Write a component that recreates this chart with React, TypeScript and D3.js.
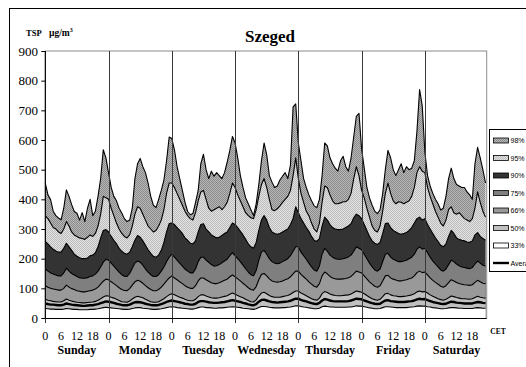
import React, { useEffect, useRef } from "react";
import * as d3 from "d3";

// categories / labels
const days = ["Sunday", "Monday", "Tuesday", "Wednesday", "Thursday", "Friday", "Saturday"];
const hourTicks = [0, 6, 12, 18];
const yTicks = [0, 100, 200, 300, 400, 500, 600, 700, 800, 900];
const legendLabels = ["98%", "95%", "90%", "75%", "66%", "50%", "33%", "Average"];

// hourly values, Sunday 0h .. Saturday 23h (µg/m3)
const p98 = [
  455, 415, 399, 360, 345, 337, 331, 370, 432, 410, 382, 359, 353, 330, 355, 325, 370, 400, 345, 360, 410, 470, 567, 540,
  489, 440, 410, 395, 370, 354, 335, 325, 330, 370, 470, 520, 538, 510, 490, 455, 410, 380, 372, 400, 430, 465, 530, 610,
  605, 567, 510, 470, 430, 390, 359, 348, 352, 390, 430, 520, 552, 500, 470, 495, 478, 490, 480, 470, 490, 525, 565, 612,
  590, 540, 480, 440, 405, 385, 365, 345, 385, 450, 530, 590, 550, 480, 458, 440, 445, 465, 478, 490, 470, 515, 712, 722,
  590, 530, 470, 440, 415, 395, 378, 372, 400, 480, 590, 580, 540, 520, 505, 495, 530, 545, 510, 495, 540, 610, 680, 690,
  570, 505, 440, 405, 380, 360, 352, 365, 420, 500, 565, 540, 500, 480, 500, 520, 490, 510, 500, 505, 530, 630, 770, 715,
  560, 480, 445, 420, 400, 385, 364, 370, 410, 470, 505, 470, 450, 445, 440, 440, 425, 415, 400, 520, 575, 540, 500, 455,
];
const p95 = [
  345, 335, 320, 305, 300, 290, 285, 300, 325, 310, 290, 280, 275, 270, 268, 265, 272, 280, 275, 285, 310, 350, 410, 405,
  400, 370, 345, 320, 300, 285, 275, 270, 280, 310, 350, 375, 370, 350, 330, 310, 300, 290, 295, 310, 330, 365, 420, 455,
  455, 440, 420, 400, 380, 360, 345, 335, 330, 355, 395, 425, 430, 400, 370, 360, 365, 370, 375, 365, 375, 390, 420, 455,
  440, 415, 395, 375, 355, 345, 338, 335, 365, 410, 450, 470, 440, 400, 365, 362, 368, 378, 390, 400, 410, 430, 480, 540,
  470, 420, 390, 360, 345, 320, 300, 290, 320, 390, 445, 440, 415, 395, 385, 385, 388, 392, 392, 400, 420, 470, 510, 480,
  430, 405, 370, 340, 310, 295, 290, 310, 360, 420, 455, 420, 395, 385, 392, 390, 385, 390, 395, 410, 440, 490, 510, 495,
  490, 440, 410, 385, 360, 340, 320, 310, 330, 365, 375, 355, 350, 355, 345, 335, 330, 325, 335, 370, 425, 390, 360, 340,
];
const p90 = [
  258, 250, 240, 232, 226, 222, 222, 235, 252, 240, 228, 215, 208, 203, 200, 200, 202, 210, 212, 220, 240, 270, 295, 298,
  290, 275, 262, 250, 235, 225, 218, 215, 222, 240, 262, 278, 272, 260, 245, 230, 218, 208, 205, 212, 228, 255, 290, 318,
  320, 315, 305, 295, 285, 270, 262, 252, 250, 260, 290, 315, 318, 300, 290, 280, 275, 270, 272, 278, 285, 290, 305, 320,
  315, 305, 292, 280, 265, 250, 240, 235, 255, 295, 330, 345, 330, 305, 290, 285, 282, 285, 290, 295, 300, 315, 335, 375,
  355, 335, 320, 305, 292, 275, 262, 258, 268, 310, 340, 330, 315, 305, 300, 298, 298, 300, 305, 310, 318, 338, 350, 345,
  335, 315, 295, 275, 260, 252, 248, 255, 285, 318, 320, 305, 295, 290, 285, 282, 285, 288, 295, 305, 320, 335, 340, 330,
  335, 315, 300, 285, 270, 258, 245, 240, 250, 275, 295, 285, 270, 265, 262, 260, 256, 255, 260, 280, 288, 275, 268, 262,
];
const p75 = [
  165, 158, 152, 148, 145, 142, 142, 152, 168, 158, 150, 145, 140, 136, 134, 134, 136, 140, 142, 148, 158, 172, 188, 198,
  195, 185, 175, 165, 155, 146, 141, 140, 150, 168, 185, 192, 188, 178, 165, 155, 146, 140, 140, 146, 158, 172, 190, 205,
  215, 205, 195, 185, 175, 165, 158, 152, 152, 165, 190, 205, 205, 195, 188, 180, 175, 176, 180, 186, 192, 198, 210, 220,
  210, 200, 190, 178, 166, 155, 146, 142, 160, 195, 222, 228, 215, 200, 190, 185, 183, 185, 190, 195, 200, 210, 225, 240,
  240, 222, 210, 198, 185, 172, 162, 158, 175, 215, 235, 225, 212, 205, 200, 198, 198, 200, 202, 206, 212, 225, 240, 235,
  230, 215, 200, 185, 172, 162, 158, 165, 190, 215, 218, 205, 198, 194, 190, 190, 192, 195, 200, 205, 215, 232, 240, 232,
  235, 220, 205, 192, 182, 172, 162, 158, 165, 180, 195, 190, 182, 176, 172, 170, 168, 166, 170, 182, 192, 185, 178, 175,
];
const p66 = [
  109, 104, 100, 98, 96, 94, 94, 100, 111, 104, 99, 96, 92, 90, 88, 88, 90, 92, 94, 98, 104, 114, 124, 131,
  129, 122, 116, 109, 102, 96, 93, 92, 99, 111, 122, 127, 124, 117, 109, 102, 96, 92, 92, 96, 104, 114, 125, 135,
  142, 135, 129, 122, 116, 109, 104, 100, 100, 109, 125, 135, 135, 129, 124, 119, 116, 116, 119, 123, 127, 131, 139, 145,
  139, 132, 125, 117, 110, 102, 96, 94, 106, 129, 147, 150, 142, 132, 125, 122, 121, 122, 125, 129, 132, 139, 149, 158,
  158, 147, 139, 131, 122, 114, 107, 104, 116, 142, 155, 149, 140, 135, 132, 131, 131, 132, 133, 136, 140, 149, 158, 155,
  152, 142, 132, 122, 114, 107, 104, 109, 125, 142, 144, 135, 131, 128, 125, 125, 127, 129, 132, 135, 142, 153, 158, 153,
  155, 145, 135, 127, 120, 114, 107, 104, 109, 119, 129, 125, 120, 116, 114, 112, 111, 110, 112, 120, 127, 122, 117, 116,
];
const p50 = [
  63, 60, 58, 56, 55, 54, 54, 58, 64, 60, 57, 55, 53, 52, 51, 51, 52, 53, 54, 56, 60, 65, 71, 75,
  74, 70, 67, 63, 59, 55, 54, 53, 57, 64, 70, 73, 71, 68, 63, 59, 55, 53, 53, 55, 60, 65, 72, 78,
  82, 78, 74, 70, 67, 63, 60, 58, 58, 63, 72, 78, 78, 74, 71, 68, 67, 67, 68, 71, 73, 75, 80, 84,
  80, 76, 72, 68, 63, 59, 55, 54, 61, 74, 84, 87, 82, 76, 72, 70, 70, 70, 72, 74, 76, 80, 86, 91,
  91, 84, 80, 75, 70, 65, 62, 60, 67, 82, 89, 86, 81, 78, 76, 75, 75, 76, 77, 78, 81, 86, 91, 89,
  87, 82, 76, 70, 65, 62, 60, 63, 72, 82, 83, 78, 75, 74, 72, 72, 73, 74, 76, 78, 82, 88, 91, 88,
  89, 84, 78, 73, 69, 65, 62, 60, 63, 68, 74, 72, 69, 67, 65, 65, 64, 63, 65, 69, 73, 70, 68, 67,
];
const p33 = [
  32, 31, 30, 30, 29, 29, 29, 30, 32, 31, 30, 29, 29, 28, 28, 28, 28, 29, 29, 30, 31, 33, 35, 36,
  35, 34, 33, 32, 31, 30, 29, 29, 30, 32, 34, 35, 35, 33, 32, 31, 30, 29, 29, 30, 31, 33, 35, 37,
  38, 37, 35, 34, 33, 32, 31, 30, 30, 32, 35, 37, 37, 35, 35, 34, 33, 33, 34, 34, 35, 36, 37, 38,
  37, 36, 35, 33, 32, 31, 30, 29, 31, 35, 39, 39, 38, 36, 35, 34, 34, 34, 35, 35, 36, 37, 39, 41,
  41, 39, 37, 36, 34, 33, 31, 31, 33, 38, 40, 39, 37, 37, 36, 36, 36, 36, 36, 37, 37, 39, 41, 40,
  40, 38, 36, 34, 33, 31, 31, 32, 35, 38, 38, 37, 36, 35, 35, 35, 35, 35, 36, 37, 38, 40, 41, 40,
  40, 38, 37, 35, 34, 33, 31, 31, 32, 34, 35, 35, 34, 33, 33, 32, 32, 32, 32, 34, 35, 34, 33, 33,
];
const avg = [
  48, 47, 45, 45, 44, 43, 43, 45, 49, 47, 45, 44, 43, 42, 41, 41, 42, 43, 43, 45, 47, 50, 53, 56,
  55, 53, 51, 48, 46, 44, 43, 43, 45, 49, 53, 54, 53, 51, 48, 46, 44, 43, 43, 44, 47, 50, 54, 57,
  59, 57, 55, 53, 51, 48, 47, 45, 45, 48, 54, 57, 57, 55, 53, 52, 51, 51, 52, 53, 54, 56, 58, 60,
  58, 56, 54, 51, 49, 46, 44, 43, 47, 55, 61, 62, 59, 56, 54, 53, 52, 53, 54, 55, 56, 58, 62, 65,
  65, 61, 58, 56, 53, 50, 48, 47, 51, 59, 64, 62, 59, 57, 56, 56, 56, 56, 56, 57, 59, 62, 65, 64,
  63, 59, 56, 53, 50, 48, 47, 48, 54, 59, 60, 57, 56, 55, 54, 54, 54, 55, 56, 57, 59, 63, 65, 63,
  64, 60, 57, 54, 52, 50, 48, 47, 48, 52, 55, 54, 52, 51, 50, 49, 49, 49, 49, 52, 54, 53, 51, 50,
];

const areaSeries = [
  { data: p98, fill: "url(#pat98)" },
  { data: p95, fill: "url(#pat95)" },
  { data: p90, fill: "#333333" },
  { data: p75, fill: "#7f7f7f" },
  { data: p66, fill: "#999999" },
  { data: p50, fill: "#c0c0c0" },
  { data: p33, fill: "#ffffff" },
];

const W = 526;
const H = 367;

export default function App() {
  const ref = useRef<SVGSVGElement>(null);

  useEffect(() => {
    const svg = d3.select(ref.current);
    svg.selectAll("*").remove();

    const left = 45.3, right = 485.5, top = 51, bottom = 318;
    const x = d3.scaleLinear().domain([0, 167]).range([left, right]);
    const y = d3.scaleLinear().domain([0, 900]).range([bottom, top]);

    const defs = svg.append("defs");
    const mkPat = (id: string, a: string, b: string) => {
      const p = defs.append("pattern").attr("id", id).attr("width", 2).attr("height", 2)
        .attr("patternUnits", "userSpaceOnUse");
      p.append("rect").attr("width", 2).attr("height", 2).attr("fill", b);
      p.append("rect").attr("width", 1).attr("height", 1).attr("fill", a);
      p.append("rect").attr("x", 1).attr("y", 1).attr("width", 1).attr("height", 1).attr("fill", a);
    };
    mkPat("pat98", "#8a8a8a", "#b8b8b8");
    mkPat("pat95", "#bdbdbd", "#e2e2e2");

    svg.append("rect").attr("width", W).attr("height", H).attr("fill", "#fff");
    // outer frame (runs off the picture)
    svg.append("rect").attr("x", 9.5).attr("y", 8.5).attr("width", 600).attr("height", 500)
      .attr("fill", "none").attr("stroke", "#000").attr("stroke-width", 1);

    // plot frame
    svg.append("rect").attr("x", left).attr("y", top).attr("width", right + 1.2 - left).attr("height", bottom - top)
      .attr("fill", "none").attr("stroke", "#8c8c8c");

    const area = d3.area<number>().x((_, i) => x(i)).y0(y(0)).y1(d => y(d));
    const line = d3.line<number>().x((_, i) => x(i)).y(d => y(d));

    areaSeries.forEach(s => {
      svg.append("path").attr("d", area(s.data)).attr("fill", s.fill);
      svg.append("path").attr("d", line(s.data)).attr("fill", "none")
        .attr("stroke", "#000").attr("stroke-width", 1.1).attr("stroke-linejoin", "round");
    });
    svg.append("path").attr("d", line(avg)).attr("fill", "none")
      .attr("stroke", "#000").attr("stroke-width", 2.4).attr("stroke-linejoin", "round");

    // day separators
    days.forEach((_, d) => {
      const xx = Math.round(x(d * 24)) + 0.5;
      svg.append("line").attr("x1", xx).attr("x2", xx).attr("y1", top).attr("y2", bottom + 5)
        .attr("stroke", "#3a3a3a").attr("stroke-width", 1);
    });

    // axes
    svg.append("line").attr("x1", left).attr("x2", left).attr("y1", top).attr("y2", bottom)
      .attr("stroke", "#000");
    svg.append("line").attr("x1", left).attr("x2", right + 1.2).attr("y1", bottom + 0.5).attr("y2", bottom + 0.5)
      .attr("stroke", "#000");

    const serif = "'Liberation Serif', 'Times New Roman', serif";
    yTicks.forEach(t => {
      svg.append("line").attr("x1", left - 4).attr("x2", left).attr("y1", y(t) + 0.5).attr("y2", y(t) + 0.5)
        .attr("stroke", "#000");
      svg.append("text").attr("x", 38).attr("y", y(t) + 4.5).attr("text-anchor", "end")
        .attr("font-family", serif).attr("font-size", 13).text(t);
    });

    days.forEach((name, d) => {
      hourTicks.forEach(h => {
        svg.append("text").attr("x", x(d * 24 + h)).attr("y", 340).attr("text-anchor", "middle")
          .attr("font-family", serif).attr("font-size", 12).text(h);
      });
      svg.append("text").attr("x", x(d * 24 + 12)).attr("y", 354).attr("text-anchor", "middle")
        .attr("font-family", serif).attr("font-size", 12).attr("font-weight", "bold").text(name);
    });

    svg.append("text").attr("x", 498).attr("y", 334).attr("text-anchor", "middle")
      .attr("font-family", serif).attr("font-size", 7.5).attr("font-weight", "bold").text("CET");

    svg.append("text").attr("x", 270).attr("y", 42).attr("text-anchor", "middle")
      .attr("font-family", serif).attr("font-size", 17).attr("font-weight", "bold").text("Szeged");

    // y axis unit label
    svg.append("text").attr("x", 26).attr("y", 35.5)
      .attr("font-family", serif).attr("font-size", 8.5).attr("font-weight", "bold").text("TSP");
    const unit = svg.append("text").attr("x", 49).attr("y", 35.5)
      .attr("font-family", serif).attr("font-size", 9.5).attr("font-weight", "bold");
    unit.append("tspan").text("\u00b5g/m");
    unit.append("tspan").attr("font-size", 6).attr("dy", -3.5).text("3");

    // legend
    svg.append("rect").attr("x", 489.5).attr("y", 129.5).attr("width", 60).attr("height", 142)
      .attr("fill", "#fff").attr("stroke", "#000");
    const ly = d3.scaleLinear().domain([0, 7]).range([140.5, 263]);
    legendLabels.forEach((l, i) => {
      const cy = ly(i);
      if (i < 7) {
        svg.append("rect").attr("x", 493.5).attr("y", cy - 2.5).attr("width", 15).attr("height", 5)
          .attr("fill", areaSeries[i].fill).attr("stroke", "#000").attr("stroke-width", 0.8);
      } else {
        svg.append("line").attr("x1", 493).attr("x2", 509).attr("y1", cy).attr("y2", cy)
          .attr("stroke", "#000").attr("stroke-width", 2.4);
      }
      svg.append("text").attr("x", 510.5).attr("y", cy + 2.6)
        .attr("font-family", "'Liberation Sans', Arial, sans-serif").attr("font-size", 7).text(l);
    });
  }, []);

  return (
    <svg ref={ref} width={W} height={H}
      style={{ position: "absolute", left: 0, top: 0, display: "block" }} />
  );
}
